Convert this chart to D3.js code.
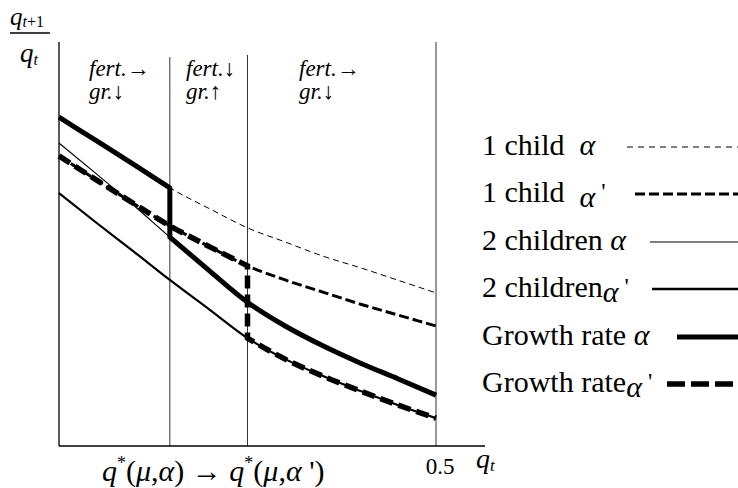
<!DOCTYPE html>
<html>
<head>
<meta charset="utf-8">
<script src="https://cdn.jsdelivr.net/npm/d3@7"></script>
<style>
  body { margin: 0; background: #fff; }
  svg { display: block; }
</style>
</head>
<body>
<div id="wrapper"></div>
<script>
// x grid (q_t) and curve values (q_{t+1}/q_t, arbitrary units)
const qGrid = [0, 0.05, 0.1, 0.147, 0.2, 0.25, 0.3, 0.35, 0.4, 0.45, 0.5];
const oneChildA = [0.814, 0.755, 0.696, 0.639, 0.587, 0.540, 0.505, 0.470, 0.441, 0.410, 0.379];
const oneChildA2 = [0.718, 0.658, 0.599, 0.545, 0.493, 0.446, 0.411, 0.381, 0.351, 0.324, 0.297];
const twoChildA = [0.750, 0.673, 0.594, 0.517, 0.433, 0.356, 0.297, 0.248, 0.205, 0.166, 0.126];
const twoChildA2 = [0.626, 0.552, 0.480, 0.411, 0.337, 0.267, 0.215, 0.173, 0.136, 0.101, 0.069];

// thresholds q*(mu, alpha) and q*(mu, alpha')
const qStarA = 0.147;
const qStarA2 = 0.25;

const regionTop = ["fert.\u2192", "fert.\u2193", "fert.\u2192"];
const regionBottom = ["gr.\u2193", "gr.\u2191", "gr.\u2193"];

const legendNames = ["1 child", "1 child", "2 children", "2 children", "Growth rate", "Growth rate"];
const legendPrime = [false, true, false, true, false, true];

const FONT = '"Liberation Serif"';
const width = 738, height = 488;

const svg = d3.select("#wrapper").append("svg")
  .attr("width", width)
  .attr("height", height);

// every text goes through this so the serif font is applied as a style
const addText = (sel, px, py, size) => sel.append("text")
  .attr("x", px).attr("y", py)
  .attr("font-size", size)
  .style("font-family", FONT)
  .attr("fill", "#000");

const x = d3.scaleLinear().domain([0, 0.5]).range([59, 436]);
const y = d3.scaleLinear().domain([0, 1]).range([446, 42]);

const toPts = vals => qGrid.map((q, i) => ({ q, v: vals[i] }));
const line = d3.line()
  .x(d => x(d.q))
  .y(d => y(d.v))
  .curve(d3.curveMonotoneX);

// growth rate: 1 child curve below threshold, 2 children above
function growthPath(one, two, qs) {
  const a = toPts(one).filter(d => d.q <= qs);
  const b = toPts(two).filter(d => d.q >= qs);
  return line(a) + line(b).replace(/^M/, "L");
}

// vertical guide lines
const guides = [
  { q: 0, top: 42, w: 1.3 },
  { q: qStarA, top: 57, w: 1 },
  { q: qStarA2, top: 55, w: 1 },
  { q: 0.5, top: 42, w: 1 }
];
svg.append("g").selectAll("line")
  .data(guides)
  .join("line")
  .attr("x1", d => x(d.q)).attr("x2", d => x(d.q))
  .attr("y1", d => d.top).attr("y2", y(0))
  .attr("stroke", d => d.q === 0 ? "#000" : "#333")
  .attr("stroke-width", d => d.w);

// x axis
const xAxis = svg.append("g")
  .attr("transform", `translate(0,${y(0)})`)
  .call(d3.axisBottom(x).tickValues([]).tickSize(0).tickSizeOuter(0));
xAxis.select(".domain").attr("d", `M${x(0)},0H485`).attr("stroke", "#000").attr("stroke-width", 1.3);

const curves = svg.append("g").attr("fill", "none").attr("stroke", "#000");

curves.append("path").attr("d", line(toPts(oneChildA)))
  .attr("stroke-width", 1).attr("stroke-dasharray", "6,4");
curves.append("path").attr("d", line(toPts(oneChildA2)))
  .attr("stroke-width", 3).attr("stroke-dasharray", "10,4");
curves.append("path").attr("d", line(toPts(twoChildA)))
  .attr("stroke-width", 1.2);
curves.append("path").attr("d", line(toPts(twoChildA2)))
  .attr("stroke-width", 2.2);
curves.append("path").attr("d", growthPath(oneChildA, twoChildA, qStarA))
  .attr("stroke-width", 5).attr("stroke-linejoin", "round");
curves.append("path").attr("d", growthPath(oneChildA2, twoChildA2, qStarA2))
  .attr("stroke-width", 5.5).attr("stroke-dasharray", "13,6");

// region labels
const regionX = [89, 186, 299];
regionTop.forEach((t, i) => {
  addText(svg, regionX[i], 76, 23).attr("font-style", "italic").text(t);
  addText(svg, regionX[i], 99, 23).attr("font-style", "italic").text(regionBottom[i]);
});

// y label as fraction
const num = addText(svg, 10, 25, 25);
num.append("tspan").attr("font-style", "italic").text("q");
num.append("tspan").attr("font-size", 16).attr("dy", 2).attr("font-style", "italic").text("t");
num.append("tspan").attr("font-size", 16).text("+1");
svg.append("line").attr("x1", 10).attr("x2", 50).attr("y1", 33).attr("y2", 33)
  .attr("stroke", "#000").attr("stroke-width", 1.3);
const den = addText(svg, 20, 62, 27);
den.append("tspan").attr("font-style", "italic").text("q");
den.append("tspan").attr("font-size", 16).attr("dy", 3).attr("font-style", "italic").text("t");

// x label
const xl = addText(svg, 476, 468, 28);
xl.append("tspan").attr("font-style", "italic").text("q");
xl.append("tspan").attr("font-size", 17).attr("dy", 3).attr("font-style", "italic").text("t");

addText(svg, x(0.5) + 4, 474, 23).attr("text-anchor", "middle").text("0.5");

// q*(mu,alpha) -> q*(mu,alpha')
const bl = addText(svg, 102, 481, 30);
function qStarLabel(prime) {
  bl.append("tspan").attr("font-style", "italic").text("q");
  bl.append("tspan").attr("font-size", 18).attr("dy", -12).text("*");
  bl.append("tspan").attr("dy", 12).text("(");
  bl.append("tspan").attr("font-style", "italic").text("\u03bc");
  bl.append("tspan").text(",");
  bl.append("tspan").attr("font-style", "italic").text("\u03b1");
  bl.append("tspan").text(prime ? " ')" : ")");
}
qStarLabel(false);
bl.append("tspan").text(" \u2192 ");
qStarLabel(true);

// legend
const legendBase = [155, 202, 250, 297, 345, 392];
const legendStart = [627, 635, 650, 652, 677, 667];
const legendStyle = [
  { w: 1, dash: "6,5" },
  { w: 3, dash: "10,4" },
  { w: 1.2, dash: null },
  { w: 2.5, dash: null },
  { w: 5, dash: null },
  { w: 5.5, dash: "18,6" }
];
legendNames.forEach((name, i) => {
  const t = addText(svg, 482, legendBase[i], 30);
  t.append("tspan").text(name + (i < 2 ? "\u00a0\u00a0" : (legendPrime[i] ? "" : "\u00a0")));
  const a = t.append("tspan").attr("font-style", "italic").text("\u03b1");
  if (legendPrime[i]) {
    a.attr("dy", 5);
    t.append("tspan").attr("font-size", 24).attr("dy", -8).text(" '");
  }
  svg.append("line")
    .attr("x1", legendStart[i]).attr("x2", 738)
    .attr("y1", legendBase[i] - 8).attr("y2", legendBase[i] - 8)
    .attr("stroke", "#000")
    .attr("stroke-width", legendStyle[i].w)
    .attr("stroke-dasharray", legendStyle[i].dash);
});
</script>
</body>
</html>
